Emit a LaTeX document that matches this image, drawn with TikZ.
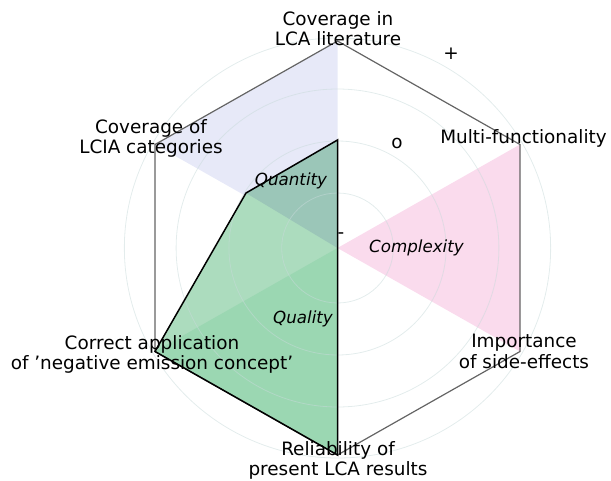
\documentclass[tikz,border=0pt]{standalone}
\usepackage{fontspec}
\setmainfont{DejaVu Sans}
\definecolor{lav}{RGB}{231,233,248}
\definecolor{pinkf}{RGB}{250,219,237}
\definecolor{lgreen}{RGB}{172,220,190}
\definecolor{teal2}{RGB}{155,198,184}
\definecolor{dgreen}{RGB}{155,215,178}
\definecolor{hexgray}{RGB}{100,100,100}
\definecolor{gridc}{RGB}{200,218,218}
\begin{document}
\begin{tikzpicture}[x=1pt,y=-1pt,
  lab/.style={font=\fontsize{18.4}{20.5}\selectfont, align=center, inner sep=0pt, anchor=north},
  sectorlab/.style={font=\fontsize{16.7}{20}\selectfont\itshape, inner sep=0pt, anchor=base},
  ticklab/.style={font=\fontsize{18.4}{20}\selectfont, inner sep=0pt, anchor=center},
  gridline/.style={draw=gridc, opacity=0.5, line width=0.8pt},
  hexline/.style={draw=hexgray, line width=1.2pt, line join=miter},
  valline/.style={draw=black, line width=1.5pt, line join=miter}]
\useasboundingbox (0,0) rectangle (611,480);
% axes vertices
\coordinate (C) at (337.5,248);
\coordinate (T) at (337.5,41);
\coordinate (UR) at (520,144.5);
\coordinate (LR) at (520,351.5);
\coordinate (B) at (337.5,455);
\coordinate (LL) at (155,351.5);
\coordinate (UL) at (155,144.5);
% value points
\coordinate (Tg) at (337.5,140);
\coordinate (ULg) at (246,193);
% sector fills
\fill[lav] (C) -- (T) -- (UL) -- cycle;
\fill[pinkf] (C) -- (UR) -- (LR) -- cycle;
\fill[lgreen] (Tg) -- (C) -- (B) -- (LL) -- (ULg) -- cycle;
\fill[teal2] (C) -- (Tg) -- (ULg) -- cycle;
\fill[dgreen] (C) -- (LL) -- (B) -- cycle;
% grid circles
\foreach \r in {55,107,159,210}
  \draw[gridline] (C) ellipse [x radius=1.015*\r pt, y radius=\r pt];
% outer hexagon
\draw[hexline] (T) -- (UR) -- (LR) -- (B) -- (LL) -- (UL) -- cycle;
% value polygon
\draw[valline] (Tg) -- (C) -- (B) -- (LL) -- (ULg) -- cycle;
% axis labels
\node[lab] (lit) at (338,11) {Coverage in\\LCA literature};
\node[lab] (lcia) at (151,119) {Coverage of\\LCIA categories};
\node[lab] (multi) at (523.5,129) {Multi-functionality};
\node[lab] (side) at (524,334) {Importance\\of side-effects};
\node[lab] (neg) at (152,335) {Correct application\\of ’negative emission concept’};
\node[lab] (rel) at (338,441) {Reliability of\\present LCA results};
% sector labels
\node[sectorlab] (quant) at (291,185) {Quantity};
\node[sectorlab] (compl) at (416.5,252) {Complexity};
\node[sectorlab] (qual) at (303,323) {Quality};
% radial tick labels
\node[ticklab] (tplus) at (451,53.5) {+};
\node[ticklab] (tzero) at (397,143) {o};
\node[ticklab] (tminus) at (341,236) {-};
\end{tikzpicture}
\end{document}
